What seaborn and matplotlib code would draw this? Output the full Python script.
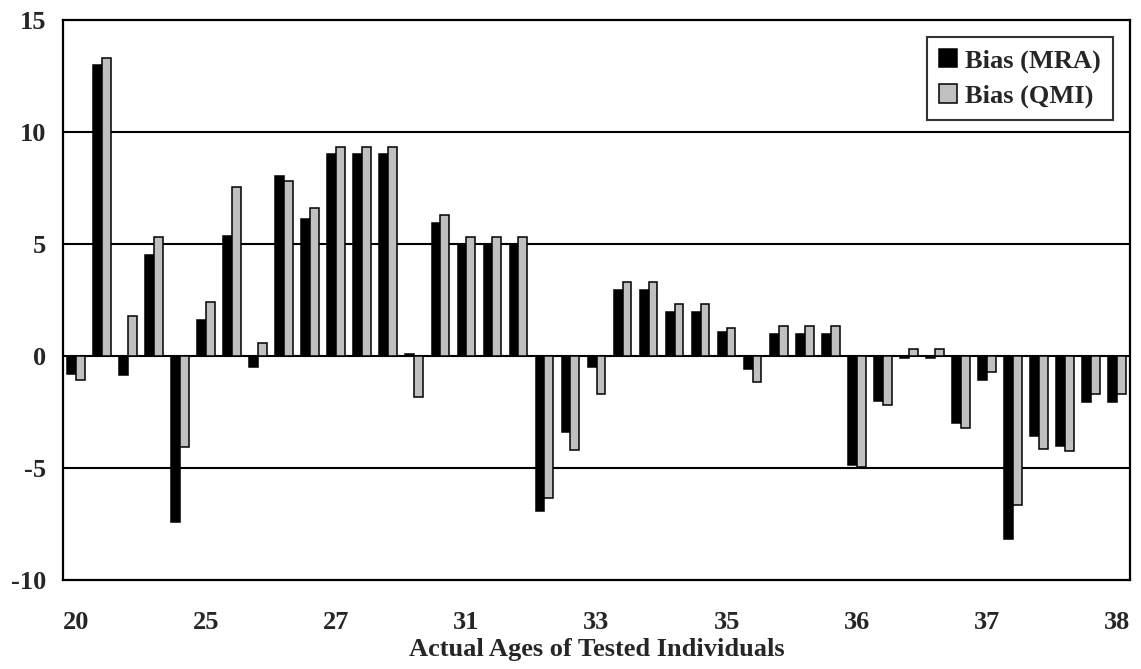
import matplotlib
matplotlib.use("Agg")
import matplotlib.pyplot as plt
import numpy as np
import pandas as pd
import seaborn as sns

# Bias of the two age-estimation methods, one pair of bars per tested individual
bias_mra = [-0.8, 13.0, -0.85, 4.5, -7.4, 1.6, 5.35, -0.5, 8.05, 6.1,
            9.0, 9.0, 9.0, 0.07, 5.95, 5.0, 5.0, 5.0, -6.9, -3.4,
            -0.5, 2.95, 2.95, 1.95, 1.95, 1.08, -0.57, 1.0, 1.0, 1.0,
            -4.88, -2.0, -0.08, -0.08, -3.0, -1.08, -8.15, -3.55, -4.0, -2.07,
            -2.07]
bias_qmi = [-1.08, 13.3, 1.78, 5.3, -4.05, 2.42, 7.55, 0.6, 7.8, 6.6,
            9.35, 9.35, 9.35, -1.83, 6.3, 5.3, 5.3, 5.3, -6.35, -4.2,
            -1.7, 3.32, 3.32, 2.32, 2.32, 1.25, -1.15, 1.33, 1.33, 1.33,
            -4.95, -2.2, 0.32, 0.32, -3.23, -0.72, -6.65, -4.15, -4.23, -1.7,
            -1.68]

# Actual ages shown on the category axis (one label every fifth individual)
age_labels = ["20", "25", "27", "31", "33", "35", "36", "37", "38"]
label_step = 5

series_names = ["Bias (MRA)", "Bias (QMI)"]
series_colors = {"Bias (MRA)": "#000000", "Bias (QMI)": "#C0C0C0"}

n = len(bias_mra)
df = pd.DataFrame({
    "individual": list(range(n)) * 2,
    "series": [series_names[0]] * n + [series_names[1]] * n,
    "bias": bias_mra + bias_qmi,
})

sns.set_style("white")
plt.rcParams["font.family"] = ["Liberation Serif", "DejaVu Serif"]
plt.rcParams["font.weight"] = "bold"
plt.rcParams["axes.unicode_minus"] = False

FS = 19

fig = plt.figure(figsize=(11.41, 6.69), dpi=100)
ax = fig.add_axes([63 / 1141, 1 - 580 / 669, (1130 - 63) / 1141, (580 - 20) / 669])

sns.barplot(data=df, x="individual", y="bias", hue="series",
            hue_order=series_names, palette=series_colors,
            order=list(range(n)), width=0.68, gap=0,
            edgecolor="black", linewidth=1.1, saturation=1,
            errorbar=None, ax=ax, zorder=3)

ax.set_ylim(-10, 15)
ax.set_xlim(-0.5, n - 0.5)
ax.set_yticks([-10, -5, 0, 5, 10, 15])
ax.set_yticklabels(["-10", "-5", "0", "5", "10", "15"])
ax.set_xticks(list(range(0, n, label_step)))
ax.set_xticklabels(age_labels)

for y in [-5, 0, 5, 10]:
    ax.axhline(y, color="black", linewidth=1.5, zorder=1)

for side in ["left", "right", "top", "bottom"]:
    ax.spines[side].set_visible(True)
    ax.spines[side].set_color("black")
    ax.spines[side].set_linewidth(1.6)

ax.tick_params(axis="both", length=0, labelsize=FS)
ax.tick_params(axis="y", pad=12)
ax.tick_params(axis="x", pad=22)
for lbl in ax.get_xticklabels() + ax.get_yticklabels():
    lbl.set_fontweight("bold")

ax.set_xlabel("Actual Ages of Tested Individuals", fontsize=FS,
              fontweight="bold", labelpad=3)
ax.set_ylabel("")

leg = ax.legend(loc="upper right", bbox_to_anchor=(0.984, 0.97),
                fontsize=FS, frameon=True, fancybox=False,
                edgecolor="black", handlelength=0.7, handleheight=0.7,
                handletextpad=0.3, borderpad=0.45, labelspacing=0.45,
                borderaxespad=0)
leg.get_frame().set_linewidth(1.5)
for txt in leg.get_texts():
    txt.set_fontweight("bold")

fig.savefig("out.png", dpi=100)
